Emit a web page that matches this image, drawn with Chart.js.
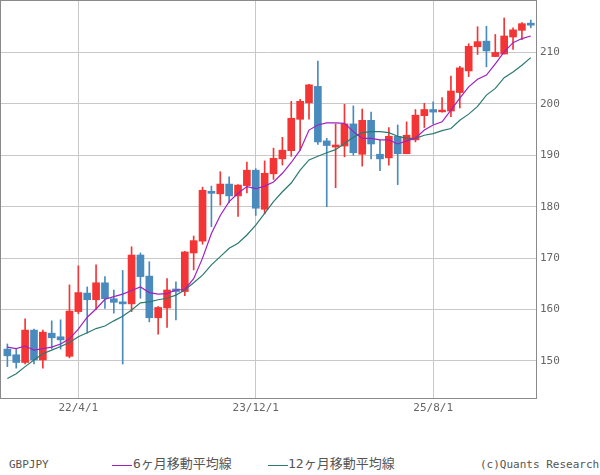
<!DOCTYPE html>
<html>
<head>
<meta charset="utf-8">
<script src="https://cdn.jsdelivr.net/npm/chart.js@4.4.1/dist/chart.umd.min.js"></script>
<style>
  html, body { margin: 0; padding: 0; background: #fff; }
  #wrap { position: relative; width: 600px; height: 475px; overflow: hidden; }
  #box { position: absolute; left: 0; top: 0; width: 600px; height: 420px; }
  .foot { position: absolute; top: 458px; font: 11px "DejaVu Sans Mono", "Noto Sans CJK JP", monospace; color: #555; line-height: 14px; white-space: nowrap; }
  .jp { font-family: "DejaVu Sans Mono", "Noto Sans CJK JP", monospace; font-size: 13px; }
  .key { position: absolute; top: 465px; height: 1px; width: 20px; }
</style>
</head>
<body>
<div id="wrap">
  <div id="box"><canvas id="chart"></canvas></div>
  <div class="foot" style="left:9px">GBPJPY</div>
  <div class="key" style="left:112px;background:#a020c0"></div>
  <div class="foot jp" style="left:133px;top:457px">6ヶ月移動平均線</div>
  <div class="key" style="left:268px;background:#2a7a70"></div>
  <div class="foot jp" style="left:288px;top:457px">12ヶ月移動平均線</div>
  <div class="foot" style="left:480px">(c)Quants Research</div>
</div>
<script>
// monthly candles, 2021/8 .. 2026/7
const months = ['21/8','21/9','21/10','21/11','21/12','22/1','22/2','22/3','22/4','22/5','22/6','22/7',
  '22/8','22/9','22/10','22/11','22/12','23/1','23/2','23/3','23/4','23/5','23/6','23/7',
  '23/8','23/9','23/10','23/11','23/12','24/1','24/2','24/3','24/4','24/5','24/6','24/7',
  '24/8','24/9','24/10','24/11','24/12','25/1','25/2','25/3','25/4','25/5','25/6','25/7',
  '25/8','25/9','25/10','25/11','25/12','26/1','26/2','26/3','26/4','26/5','26/6','26/7'];

const opens = [152.3, 151.2, 149.7, 156.0, 150.2, 155.4, 154.7, 150.9, 159.6, 163.2, 161.9, 165.2,
  162.1, 161.5, 161.1, 170.6, 166.5, 158.4, 160.3, 164.0, 163.5, 171.0, 173.3, 183.0,
  182.5, 184.4, 182.1, 184.1, 187.1, 179.5, 186.4, 189.3, 190.9, 197.0, 200.2, 203.4,
  192.8, 191.6, 191.8, 196.1, 190.2, 196.8, 190.2, 189.5, 193.7, 190.3, 193.0, 197.7,
  198.9, 198.45, 198.6, 202.2, 206.4, 211.1, 212.2, 209.2, 209.7, 213.0, 214.3, 215.7];
const highs = [153.3, 152.3, 158.2, 156.2, 156.0, 157.8, 158.0, 164.8, 168.5, 164.4, 168.7, 166.4,
  163.8, 167.6, 172.2, 171.0, 169.3, 160.6, 166.0, 165.4, 171.3, 174.3, 183.8, 184.0,
  186.8, 185.8, 184.3, 188.7, 187.4, 188.9, 191.4, 193.5, 200.5, 200.9, 203.8, 208.3,
  193.3, 196.1, 199.9, 199.6, 199.0, 198.4, 192.9, 195.4, 195.9, 196.5, 198.9, 200.1,
  200.4, 201.2, 205.4, 207.3, 211.7, 215.0, 215.1, 213.5, 216.7, 214.8, 215.8, 216.3];
const lows = [148.9, 148.6, 149.4, 149.4, 148.6, 152.4, 152.3, 150.6, 159.2, 155.4, 160.0, 160.2,
  159.3, 149.4, 159.6, 162.2, 157.6, 155.2, 156.5, 158.0, 162.7, 167.7, 172.7, 176.1,
  180.3, 180.8, 178.1, 182.7, 178.3, 178.6, 185.3, 188.1, 189.8, 191.0, 197.0, 192.1,
  180.0, 183.7, 189.7, 190.0, 187.9, 189.3, 187.0, 188.1, 184.3, 190.3, 192.6, 195.4,
  196.1, 198.4, 197.5, 199.2, 205.3, 209.6, 207.2, 209.2, 209.7, 210.6, 212.5, 214.8];
const closes = [151.0, 149.7, 156.0, 150.2, 155.6, 154.5, 154.1, 159.7, 163.3, 161.9, 165.2, 162.1,
  161.4, 161.1, 170.6, 166.4, 158.4, 160.4, 163.8, 163.5, 171.2, 173.4, 183.2, 182.6,
  184.4, 182.1, 184.2, 187.1, 179.7, 186.5, 189.4, 191.0, 197.2, 200.5, 203.7, 192.6,
  191.9, 192.0, 196.1, 190.5, 196.8, 192.2, 189.3, 193.7, 190.3, 193.9, 197.8, 198.9,
  198.4, 198.8, 202.5, 207.0, 211.2, 212.1, 210.3, 210.0, 213.2, 214.4, 215.6, 215.3];

// moving averages
const ma6 = [152.7, 152.4, 152.9, 152.1, 152.4, 152.7, 153.3, 154.3, 156.2, 158.5, 160.1, 162.0,
  162.5, 163.0, 163.7, 164.4, 163.3, 163.0, 163.1, 163.8, 163.9, 166.0, 170.0, 174.8,
  178.3, 181.0, 182.6, 183.9, 183.5, 184.0, 184.8, 186.5, 188.6, 191.0, 194.9, 195.9,
  196.3, 196.3, 196.2, 194.6, 193.3, 193.3, 193.0, 193.0, 192.2, 192.8, 193.3, 194.9,
  195.9, 196.5, 198.8, 201.1, 203.3, 204.8, 205.6, 207.8, 210.1, 211.9, 212.7, 213.2];
const ma12 = [146.6, 147.5, 148.9, 150.2, 151.4, 152.1, 152.8, 153.6, 154.7, 155.5, 156.3, 156.8,
  157.8, 158.7, 159.9, 161.3, 161.5, 161.9, 162.2, 162.8, 163.8, 165.2, 166.7, 168.7,
  170.3, 171.9, 172.9, 174.5, 176.4, 178.7, 181.0, 182.9, 184.6, 187.1, 189.1, 189.8,
  190.5, 191.1, 192.3, 193.5, 194.4, 194.6, 194.6, 194.4, 193.7, 193.3, 193.3, 193.9,
  194.2, 194.8, 195.2, 196.8, 198.0, 199.5, 201.7, 203.0, 205.1, 206.2, 207.5, 209.0];

const xTickIdx = [8, 28, 48];
const xTickText = ['22/4/1', '23/12/1', '25/8/1'];
const yTicks = [150, 160, 170, 180, 190, 200, 210];

const upColor = '#f43535';
const downColor = '#4a8bbe';
const candleColors = closes.map((c, i) => c >= opens[i] ? upColor : downColor);

// grey frame around the plot area
const framePlugin = {
  id: 'frame',
  afterDraw(chart) {
    const a = chart.chartArea;
    const ctx = chart.ctx;
    ctx.save();
    ctx.strokeStyle = '#8a8a8a';
    ctx.lineWidth = 1;
    ctx.strokeRect(a.left + 0.5, a.top + 0.5, a.right - a.left - 1, a.bottom - a.top - 1);
    ctx.restore();
  }
};

const tickFont = { family: '"DejaVu Sans Mono", monospace', size: 11 };

new Chart(document.getElementById('chart').getContext('2d'), {
  type: 'bar',
  data: {
    datasets: [
      {
        type: 'line', label: '6ヶ月移動平均線',
        data: ma6.map((v, i) => ({ x: i, y: v })),
        borderColor: '#a020c0', borderWidth: 1.2, pointRadius: 0, tension: 0, order: 1
      },
      {
        type: 'line', label: '12ヶ月移動平均線',
        data: ma12.map((v, i) => ({ x: i, y: v })),
        borderColor: '#2a7a70', borderWidth: 1.2, pointRadius: 0, tension: 0, order: 1
      },
      {
        label: 'body',
        data: opens.map((o, i) => ({ x: i, y: [o, closes[i]] })),
        backgroundColor: candleColors, borderWidth: 0,
        barThickness: 7, grouped: false, order: 2
      },
      {
        label: 'wick',
        data: lows.map((l, i) => ({ x: i, y: [l, highs[i]] })),
        backgroundColor: candleColors, borderWidth: 0,
        barThickness: 1, grouped: false, order: 3
      }
    ]
  },
  options: {
    responsive: true,
    maintainAspectRatio: false,
    animation: false,
    layout: { padding: 0 },
    plugins: { legend: { display: false }, tooltip: { enabled: false } },
    scales: {
      x: {
        type: 'linear',
        offset: false,
        min: -0.83,
        max: 59.7,
        afterBuildTicks: axis => { axis.ticks = xTickIdx.map(v => ({ value: v })); },
        afterFit: axis => { axis.height = 21; axis.paddingLeft = 0; axis.paddingRight = 0; },
        grid: { color: '#c8c8c8', drawTicks: false, offset: false },
        border: { display: false },
        ticks: {
          autoSkip: false, maxRotation: 0, padding: 3,
          color: '#666', font: tickFont,
          callback: value => xTickText[xTickIdx.indexOf(value)]
        }
      },
      y: {
        position: 'right',
        min: 142.6,
        max: 220.2,
        afterBuildTicks: axis => { axis.ticks = yTicks.map(v => ({ value: v })); },
        afterFit: axis => { axis.width = 63; axis.paddingTop = 0; axis.paddingBottom = 0; },
        grid: { color: '#c8c8c8', drawTicks: false },
        border: { display: false },
        ticks: { padding: 3, color: '#666', font: tickFont }
      }
    }
  },
  plugins: [framePlugin]
});
</script>
</body>
</html>
